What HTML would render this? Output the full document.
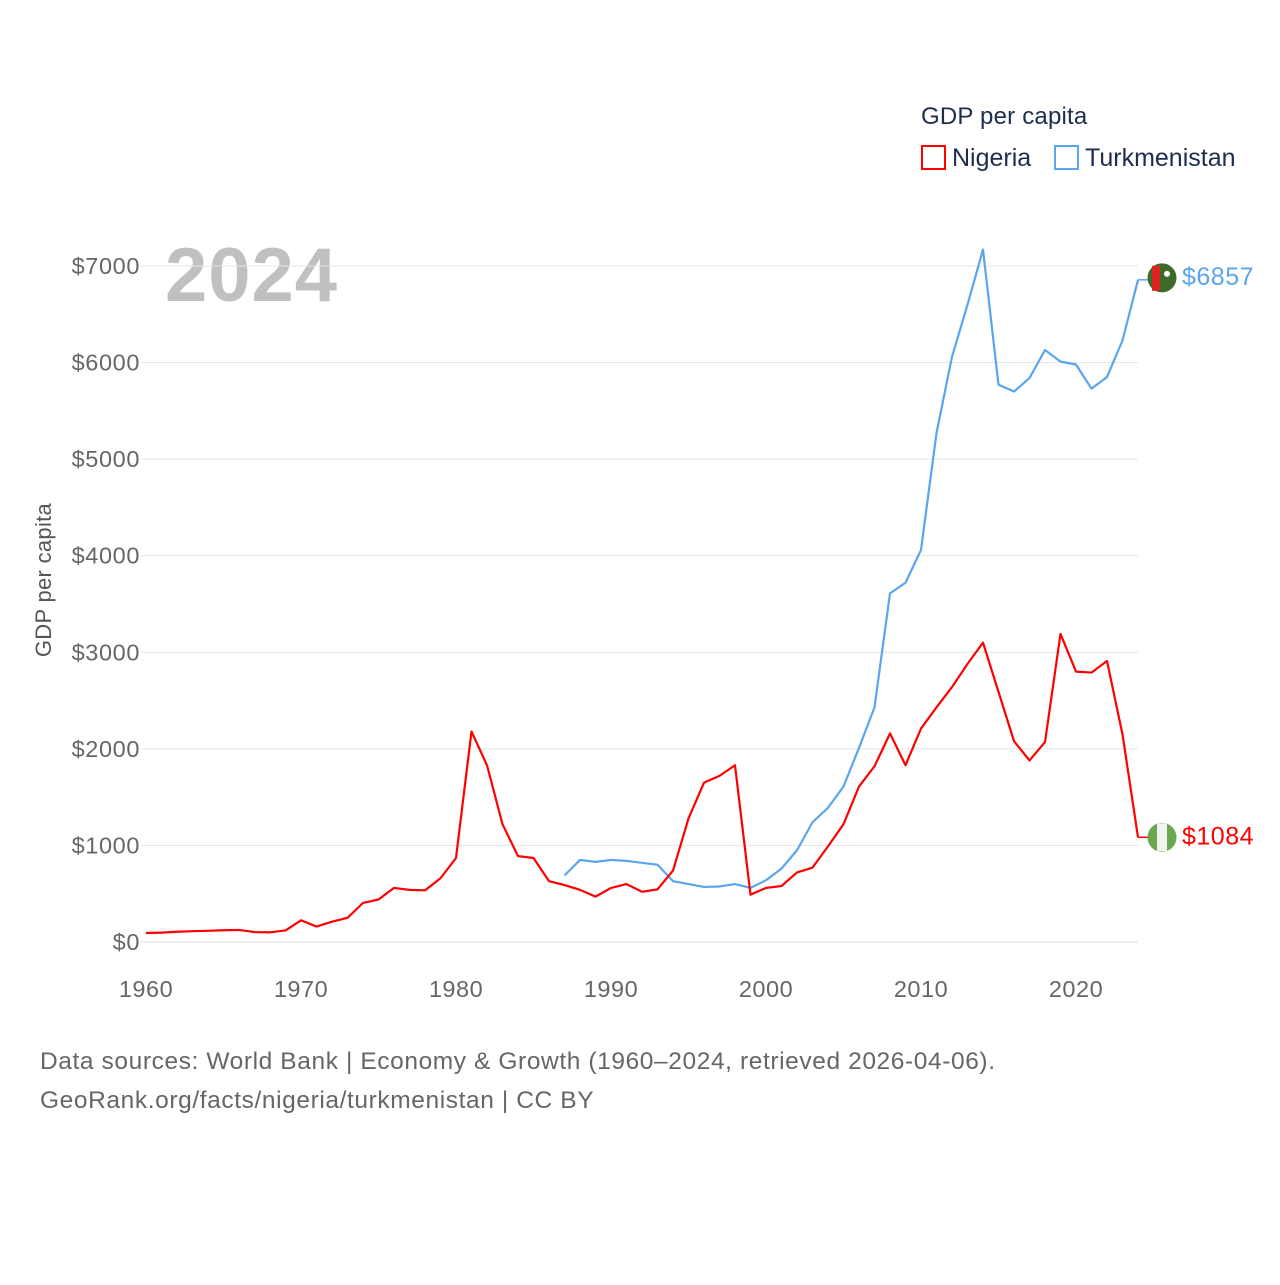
<!DOCTYPE html>
<html><head><meta charset="utf-8"><style>
body{margin:0;background:#fff;width:1280px;height:1280px;overflow:hidden;font-family:"Liberation Sans",sans-serif;}
</style></head><body>
<svg width="1280" height="1280" xmlns="http://www.w3.org/2000/svg" id="svg" font-family="Liberation Sans, sans-serif">
<text x="921" y="124" font-size="24" fill="#1d2e4d" letter-spacing="0.2">GDP per capita</text>
<rect x="922" y="146" width="23" height="23" fill="none" stroke="#ff0000" stroke-width="2"/>
<text x="952" y="166" font-size="25" fill="#1d2e4d">Nigeria</text>
<rect x="1055" y="146" width="23" height="23" fill="none" stroke="#5aa5ef" stroke-width="2"/>
<text x="1085" y="166" font-size="25" fill="#1d2e4d">Turkmenistan</text>
<text x="165" y="301" font-size="76" font-weight="bold" fill="#c0c0c0" letter-spacing="1">2024</text>
<text transform="translate(51,580) rotate(-90)" text-anchor="middle" font-size="22" fill="#555" letter-spacing="0.3">GDP per capita</text>
<g id="grid"></g><g id="lines"></g><g id="ends"></g>
<text x="40" y="1069" font-size="24.5" fill="#666" letter-spacing="0.6">Data sources: World Bank | Economy &amp; Growth (1960–2024, retrieved 2026-04-06).</text>
<text x="40" y="1108" font-size="24.5" fill="#666" letter-spacing="0.6">GeoRank.org/facts/nigeria/turkmenistan | CC BY</text>
</svg>
<script>
const nigeriaYears=[1960,1961,1962,1963,1964,1965,1966,1967,1968,1969,1970,1971,1972,1973,1974,1975,1976,1977,1978,1979,1980,1981,1982,1983,1984,1985,1986,1987,1988,1989,1990,1991,1992,1993,1994,1995,1996,1997,1998,1999,2000,2001,2002,2003,2004,2005,2006,2007,2008,2009,2010,2011,2012,2013,2014,2015,2016,2017,2018,2019,2020,2021,2022,2023,2024];
const nigeriaValues=[93,97,106,112,116,122,125,103,100,120,225,160,210,250,405,440,560,540,535,660,870,2180,1830,1220,890,870,630,590,540,470,560,600,520,545,740,1280,1650,1720,1830,490,560,580,720,770,990,1220,1610,1820,2160,1830,2210,2430,2640,2880,3100,2590,2080,1880,2070,3190,2800,2790,2910,2150,1084];
const turkYears=[1987,1988,1989,1990,1991,1992,1993,1994,1995,1996,1997,1998,1999,2000,2001,2002,2003,2004,2005,2006,2007,2008,2009,2010,2011,2012,2013,2014,2015,2016,2017,2018,2019,2020,2021,2022,2023,2024];
const turkValues=[690,850,830,850,840,820,800,630,600,570,575,600,560,640,760,950,1240,1390,1610,2010,2430,3610,3720,4060,5270,6060,6600,7170,5770,5700,5840,6130,6010,5980,5730,5850,6230,6857];
const yTicks=[0,1000,2000,3000,4000,5000,6000,7000];
const xTicks=[1960,1970,1980,1990,2000,2010,2020];
const NS="http://www.w3.org/2000/svg";
const X=y=>146+(y-1960)*15.5;
const Y=v=>942-v*0.09657;
function mk(t,a,p){const e=document.createElementNS(NS,t);for(const k in a)e.setAttribute(k,a[k]);p.appendChild(e);return e;}
const grid=document.getElementById('grid');
yTicks.forEach(v=>{
 const l=mk('line',{x1:140,x2:1138,y1:Y(v),y2:Y(v),stroke:v==0?'#ddd':'#e6e6e6','stroke-width':1},grid);
 
 
 const t=mk('text',{x:140,y:Y(v)+8,'text-anchor':'end','font-size':23.5,fill:'#666','letter-spacing':0.6},grid);
 t.textContent='$'+v;
 
 
});
xTicks.forEach(v=>{
 const t=mk('text',{x:X(v),y:997,'text-anchor':'middle','font-size':23.5,fill:'#666','letter-spacing':0.5},grid);
 t.textContent=v;
 
 
});
const lines=document.getElementById('lines');
function series(ys,vs,col,name){
 const p=mk('polyline',{points:ys.map((y,i)=>X(y)+','+Y(vs[i])).join(' '),fill:'none',stroke:col,'stroke-width':2.2,'stroke-linejoin':'round'},lines);
 
 
 const last=vs[vs.length-1],lx=X(ys[ys.length-1]),ly=Y(last);
 mk('line',{x1:lx,x2:lx+12,y1:ly,y2:ly,stroke:col,'stroke-width':1.5},lines);
 return [lx,ly,last];
}
const ends=document.getElementById('ends');
let [ax,ay,av]=series(turkYears,turkValues,'#5aa5ef','turkmenistan');
let g=mk('g',{},ends);
mk('circle',{cx:ax+24,cy:ay-2,r:14.5,fill:'#3f6b2a'},g);
mk('rect',{x:ax+14,y:ay-14,width:8,height:25,fill:'#d22'},g);
mk('circle',{cx:ax+29,cy:ay-6,r:3,fill:'#fff'},g);
let t=mk('text',{x:ax+44,y:ay+5,'font-size':25,fill:'#5aa5ef','letter-spacing':0.5},ends);t.textContent='$'+av;


let [bx,by,bv]=series(nigeriaYears,nigeriaValues,'#ff0000','nigeria');
g=mk('g',{},ends);
mk('circle',{cx:bx+24,cy:by,r:14.5,fill:'#6aa84f'},g);
mk('rect',{x:bx+19,y:by-14,width:10,height:28,fill:'#f2f2f2'},g);
t=mk('text',{x:bx+44,y:by+7,'font-size':25,fill:'#ff0000','letter-spacing':0.5},ends);t.textContent='$'+bv;


</script>
</body></html>
